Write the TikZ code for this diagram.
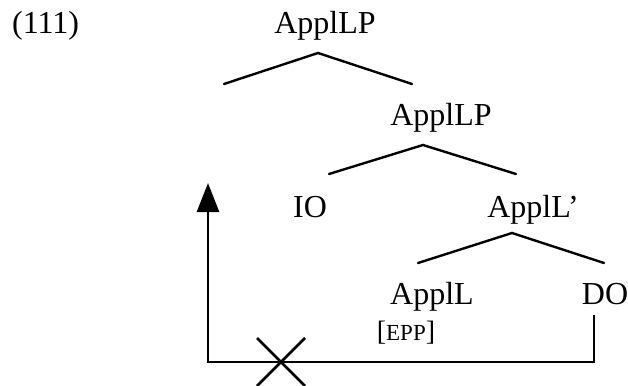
\documentclass[tikz,border=0pt]{standalone}
\usepackage{fontspec}
\setmainfont{Liberation Serif}
\usetikzlibrary{arrows.meta}
\begin{document}
\begin{tikzpicture}[x=1pt,y=-1pt,
  lbl/.style={anchor=base,inner sep=0pt,font=\fontsize{32}{32}\selectfont},
  feat/.style={anchor=base,inner sep=0pt,font=\fontsize{28}{28}\selectfont},
  branch/.style={line width=2.4pt,line cap=round},
  move/.style={line width=2.6pt,line join=miter}]
\useasboundingbox (0,0) rectangle (628,385);
% labels
\node[lbl,anchor=base west] (ex) at (12,34) {(111)};
\node[lbl] (top) at (325,34) {ApplLP};
\node[lbl] (mid) at (441,125) {ApplLP};
\node[lbl] (io) at (310,217) {IO};
\node[lbl] (bar) at (533,217) {ApplL’};
\node[lbl] (head) at (432,304) {ApplL};
\node[lbl] (do) at (605,304) {DO};
\node[feat] (epp) at (406,340) {[{\fontsize{23}{23}\selectfont EPP}]};
% branches
\coordinate (t1) at (318,53); \coordinate (l1) at (224,84); \coordinate (r1) at (412,84);
\coordinate (t2) at (423,145); \coordinate (l2) at (329,174); \coordinate (r2) at (516,174);
\coordinate (t3) at (512,233); \coordinate (l3) at (418,263); \coordinate (r3) at (604,263);
\draw[branch] (l1) -- (t1) -- (r1);
\draw[branch] (l2) -- (t2) -- (r2);
\draw[branch] (l3) -- (t3) -- (r3);
% movement
\coordinate (doB) at (594,315);
\coordinate (doC) at (594,362);
\coordinate (corner) at (208,362);
\coordinate (tip) at (208,183);
\draw[move,-{Triangle[width=22pt,length=29pt]}] (doB) -- (doC) -- (corner) -- (tip);
\coordinate (x) at (281,362);
\draw[move] (x) ++(-24,-24) -- ++(48,48);
\draw[move] (x) ++(-24,24) -- ++(48,-48);
\end{tikzpicture}
\end{document}
